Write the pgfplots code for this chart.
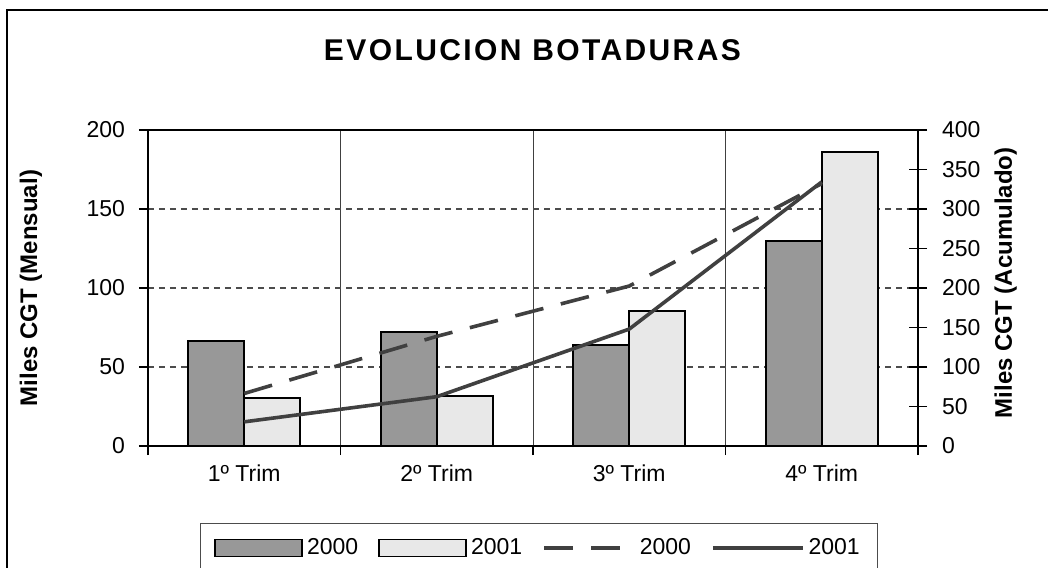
\documentclass[border=0pt]{standalone}
\usepackage{fontspec}
\setmainfont{Liberation Sans}
\newfontfamily\titlefont[LetterSpace=8]{Liberation Sans}
\usepackage{pgfplots}
\usepackage{pgfplotstable}
\pgfplotsset{compat=1.18}
\definecolor{darkbar}{RGB}{152,152,152}
\definecolor{lightbar}{RGB}{232,232,232}
\definecolor{linec}{RGB}{64,64,64}
\pgfplotsset{
 barlegend/.style={legend image code/.code={\draw[##1] (0pt,-4.25pt) rectangle (43.5pt,4.25pt);}},
 linelegend/.style={legend image code/.code={\draw[##1] (0pt,0pt) -- (45pt,0pt);}},
}
\pgfplotstableread{
x a b
0 66.5 30.6
1 72.3 31.8
2 63.7 85.6
3 129.7 186.3
}\monthly
\pgfplotstableread{
x a b
0 66.5 30.6
1 138.8 62.4
2 202.5 148.0
3 332.2 334.3
}\cumul
\begin{document}
\begin{tikzpicture}[x=1pt,y=1pt]
\useasboundingbox (-122.125,-60.5) rectangle (401.875,223);
\draw[line width=0.8pt] (-118.625,-61) -- (-118.625,218) -- (402,218);
\node[font=\titlefont\bfseries\fontsize{15}{18}\selectfont] at (144.1,198) {EVOLUCION BOTADURAS};
\begin{axis}[
 at={(0,0)}, anchor=origin, scale only axis, width=385pt, height=158pt,
 xmin=-0.5, xmax=3.5, ymin=0, ymax=200,
 xtick={-0.5,0.5,1.5,2.5,3.5}, xticklabels={},
 extra x ticks={0,1,2,3}, extra x tick labels={1º Trim,2º Trim,3º Trim,4º Trim},
 extra x tick style={major tick length=0pt, grid=none, xticklabel style={yshift=-6pt}},
 ytick={0,50,...,200},
 tick pos=left,
 xmajorgrids, ymajorgrids,
 x grid style={black!75, line width=0.5pt},
 y grid style={black!70, dash pattern=on 3pt off 2.5pt, line width=0.6pt},
 axis line style={line width=0.9pt, black},
 tick style={black, line width=0.7pt},
 tick align=outside, major tick length=4.5pt,
 ticklabel style={font=\fontsize{11.5}{13}\selectfont},
 yticklabel style={xshift=-3.5pt},
 /pgf/number format/assume math mode=true,
 ylabel={Miles CGT (Mensual)},
 ylabel style={font=\bfseries\fontsize{12}{14}\selectfont, at={(axis description cs:-0.152,0.5)}, anchor=center},
 ybar, bar width=28pt,
]
\addplot[fill=darkbar, draw=black, line width=0.9pt, bar shift=-14pt] table[x=x,y=a]{\monthly};
\addplot[fill=lightbar, draw=black, line width=0.9pt, bar shift=14pt] table[x=x,y=b]{\monthly};
\end{axis}
\begin{axis}[
 at={(0,0)}, anchor=origin, scale only axis, width=385pt, height=158pt,
 xmin=-0.5, xmax=3.5, ymin=0, ymax=400,
 axis x line=none, axis y line*=right,
 ytick={0,50,...,400},
 axis line style={line width=0.9pt, black},
 tick style={black, line width=0.7pt},
 tick align=center, major tick length=9pt,
 ticklabel style={font=\fontsize{11.5}{13}\selectfont},
 yticklabel style={xshift=4pt},
 /pgf/number format/assume math mode=true,
 ylabel={Miles CGT (Acumulado)},
 ylabel style={font=\bfseries\fontsize{12}{14}\selectfont, at={(axis description cs:1.114,0.516)}, anchor=center},
 legend columns=4,
 legend style={at={(axis description cs:0.5078,-0.323)}, anchor=center, draw=black!70, line width=0.6pt,
   font=\fontsize{11.5}{13}\selectfont, inner ysep=5.5pt, inner xsep=7pt,
   nodes={inner xsep=2pt},
   /tikz/every even column/.append style={column sep=8pt}},
]
\addlegendimage{barlegend, fill=darkbar, draw=black, line width=0.9pt}
\addlegendimage{barlegend, fill=lightbar, draw=black, line width=0.9pt}
\addplot[linelegend, linec, line width=1.8pt, dash pattern=on 14.5pt off 9pt] table[x=x,y=a]{\cumul};
\addplot[linelegend, linec, line width=1.8pt] table[x=x,y=b]{\cumul};
\legend{2000,2001,2000,2001}
\end{axis}
\end{tikzpicture}
\end{document}
